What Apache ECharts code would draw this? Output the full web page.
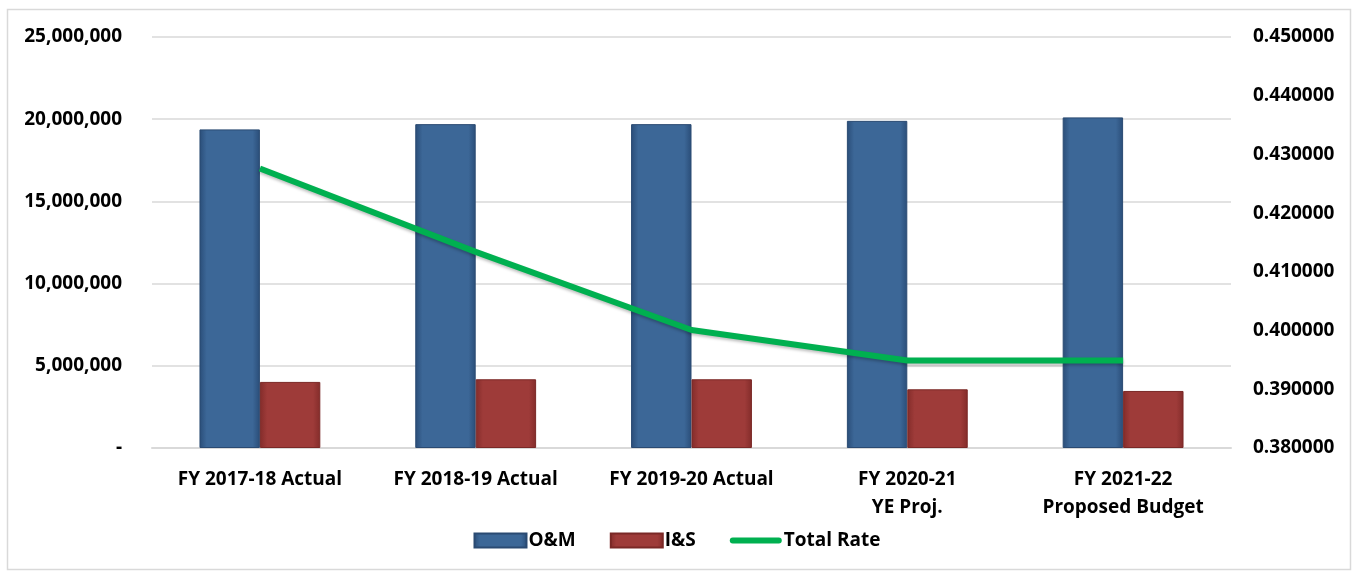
<!DOCTYPE html>
<html>
<head>
<meta charset="utf-8">
<script src="https://cdn.jsdelivr.net/npm/echarts@6/dist/echarts.min.js"></script>
<style>
  html, body { margin: 0; padding: 0; background: #fff; }
  #chart { width: 1354px; height: 574px; }
</style>
</head>
<body>
<div id="chart"></div>
<script>
// data
var categories = [
  "FY 2017-18 Actual",
  "FY 2018-19 Actual",
  "FY 2019-20 Actual",
  "FY 2020-21\nYE Proj.",
  "FY 2021-22\nProposed Budget"
];
var omValues = [19380000, 19700000, 19700000, 19900000, 20110000];
var isValues = [4020000, 4180000, 4180000, 3570000, 3470000];
var totalRate = [0.4276, 0.4134, 0.4001, 0.3949, 0.3949];

var FONT = "'Open Sans', Lato, sans-serif";

function barColor(edge, mid) {
  return new echarts.graphic.LinearGradient(0, 0, 1, 0, [
    { offset: 0, color: edge },
    { offset: 0.12, color: mid },
    { offset: 0.88, color: mid },
    { offset: 1, color: edge }
  ]);
}

var myChart = echarts.init(document.getElementById("chart"));
var option = {
  backgroundColor: "#fff",
  animation: false,
  textStyle: { fontFamily: FONT },
  graphic: [
    {
      type: "rect",
      left: 5, top: 7,
      shape: { width: 1343, height: 560 },
      style: { fill: "none", stroke: "#d9d9d9", lineWidth: 1.5 },
      silent: true
    }
  ],
  grid: { left: 152, right: 123, top: 37, bottom: 126 },
  legend: {
    top: 526,
    left: "center",
    itemGap: 34,
    itemWidth: 52,
    itemHeight: 14,
    textStyle: {
      fontFamily: FONT, fontWeight: "bold", fontSize: 19, color: "#000",
      padding: [0, 0, 0, -3]
    },
    data: [
      { name: "O&M", icon: "rect" },
      { name: "I&S", icon: "rect" },
      { name: "Total Rate", icon: "path://M3,0 L57,0 A3.5,3.5 0 0 1 57,7 L3,7 A3.5,3.5 0 0 1 3,0 Z" }
    ]
  },
  xAxis: {
    type: "category",
    data: categories,
    axisTick: { show: false },
    axisLine: { lineStyle: { color: "#d9d9d9", width: 2 } },
    axisLabel: {
      margin: 18,
      interval: 0,
      fontFamily: FONT,
      fontWeight: "bold",
      fontSize: 19,
      lineHeight: 28,
      color: "#000"
    }
  },
  yAxis: [
    {
      type: "value",
      min: 0,
      max: 25000000,
      interval: 5000000,
      axisLine: { show: false },
      axisTick: { show: false },
      splitLine: { lineStyle: { color: "#d9d9d9", width: 1.5 } },
      axisLabel: {
        margin: 30,
        fontFamily: FONT,
        fontWeight: "bold",
        fontSize: 19,
        color: "#000",
        formatter: function (v) {
          return v === 0 ? "-" : v.toLocaleString("en-US");
        }
      }
    },
    {
      type: "value",
      min: 0.38,
      max: 0.45,
      interval: 0.01,
      axisLine: { show: false },
      axisTick: { show: false },
      splitLine: { show: false },
      axisLabel: {
        margin: 22,
        fontFamily: FONT,
        fontWeight: "bold",
        fontSize: 19,
        color: "#000",
        formatter: function (v) {
          return v.toFixed(6);
        }
      }
    }
  ],
  series: [
    {
      name: "O&M",
      type: "bar",
      data: omValues,
      barGap: "0%",
      barCategoryGap: "44%",
      itemStyle: {
        color: barColor("#2a4d78", "#3c6797"),
        borderColor: "#2a4a72",
        borderWidth: 1
      }
    },
    {
      name: "I&S",
      type: "bar",
      data: isValues,
      barGap: "0%",
      barCategoryGap: "44%",
      itemStyle: {
        color: barColor("#832c2a", "#9e3b39"),
        borderColor: "#7a2826",
        borderWidth: 1
      }
    },
    {
      name: "Total Rate",
      type: "line",
      yAxisIndex: 1,
      data: totalRate,
      symbol: "none",
      z: 5,
      itemStyle: { color: "#00b050" },
      lineStyle: {
        color: "#00b050",
        width: 6,
        shadowColor: "rgba(0,0,0,0.25)",
        shadowBlur: 3,
        shadowOffsetY: 2
      }
    }
  ]
};
myChart.setOption(option);
</script>
</body>
</html>
